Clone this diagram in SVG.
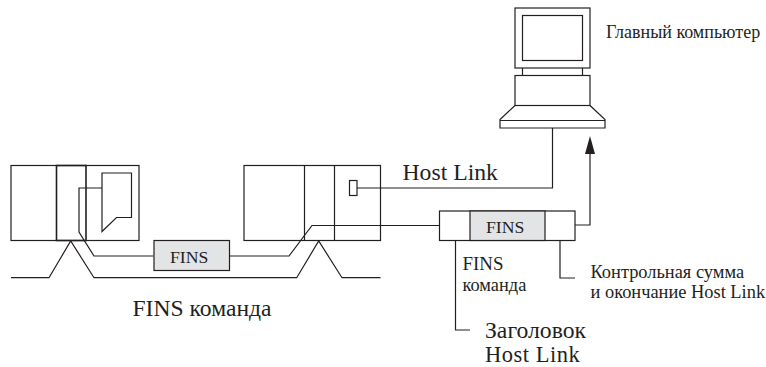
<svg xmlns="http://www.w3.org/2000/svg" width="766" height="367" viewBox="0 0 766 367">
<style>
.l{fill:none;stroke:#231f20;stroke-width:1.2}
.w{fill:#fff;stroke:#231f20;stroke-width:1.2}
.g{fill:#e3e4e5;stroke:#231f20;stroke-width:1.2}
text{font-family:"Liberation Serif","Noto Sans CJK SC",serif;fill:#231f20}
</style>
<rect width="766" height="367" fill="#fff"/>
<g id="plc-left">
<rect class="l" x="11" y="165.500" width="128" height="75"/>
<rect class="l" x="56.500" y="165.500" width="29.500" height="75" style="stroke-width:1.6"/>
<path class="l" d="M102 173H131.500V217.500H116.500L102 231.500Z"/>
</g>
<g id="plc-right">
<rect class="l" x="244" y="165.500" width="136.500" height="75"/>
<path class="l" d="M304.500 165.500V240.500M334.500 165.500V240.500"/>
<rect class="l" x="349.500" y="180.500" width="7.500" height="15"/>
</g>
<g id="computer">
<rect class="l" x="515" y="8" width="75" height="60"/>
<rect class="l" x="522.500" y="15.500" width="60" height="45"/>
<path class="l" d="M522.500 68V75.500M582.500 68V75.500"/>
<rect class="l" x="515" y="75.500" width="75" height="30"/>
<path class="l" d="M515 105.500L500 119.500V128H605V119.500L590 105.500M500 120.500H605"/>
<text x="606" y="37.500" font-size="18">Главный компьютер</text>
</g>
<g id="connectors">
<path class="l" d="M11 277.700H49L70.700 241L94 277.700H296.700L318.700 241L342 277.700H380.500"/>
<path class="l" d="M102 188H79V232L94 256H153.500"/>
<path class="l" d="M229.500 256H289L312 225.500H439.500"/>
<path class="l" d="M357 188H552.500V128"/>
<path class="l" d="M575 225H590V150"/>
<path d="M590 136L595 154H585Z" fill="#231f20"/>
<path class="l" d="M455.500 240.500V330H470"/>
<path class="l" d="M560 240.500V278H575"/>
</g>
<g id="fins-packet-left">
<rect class="g" x="154" y="240.500" width="75.500" height="30"/>
<text x="170" y="263" font-size="17.700">FINS</text>
</g>
<g id="fins-packet-right">
<rect class="w" x="439.500" y="211" width="135.500" height="29.500"/>
<rect class="g" x="470" y="211" width="75" height="29.500"/>
<text x="486" y="232.500" font-size="17.700">FINS</text>
</g>
<g id="labels">
<text x="402.500" y="180" font-size="23.700">Host Link</text>
<text x="132.500" y="316" font-size="23.600">FINS команда</text>
<text x="462.500" y="270" font-size="18.900">FINS</text>
<text x="462.500" y="290.500" font-size="18.400">команда</text>
<text x="590.500" y="278" font-size="18.400">Контрольная сумма</text>
<text x="590.500" y="298" font-size="18.400">и окончание Host Link</text>
<text x="485" y="338" font-size="23.700">Заголовок</text>
<text x="485" y="362" font-size="22.500" letter-spacing="0.500">Host Link</text>
</g>
</svg>
